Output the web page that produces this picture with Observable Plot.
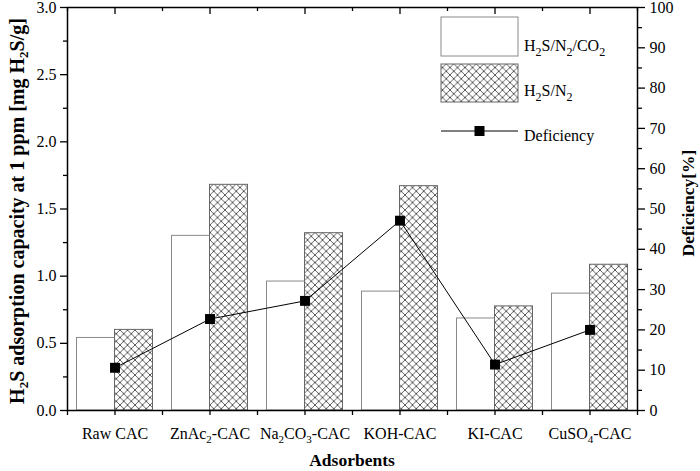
<!DOCTYPE html>
<html>
<head>
<meta charset="utf-8">
<script src="https://cdn.jsdelivr.net/npm/d3@7"></script>
<script src="https://cdn.jsdelivr.net/npm/@observablehq/plot@0.6"></script>
<style>
  html, body { margin: 0; padding: 0; background: white; }
  #chart svg { display: block; }
</style>
</head>
<body>
<div id="chart"></div>
<script>
// ---- data ----
const categories = ["Raw CAC", "ZnAc_2-CAC", "Na_2CO_3-CAC", "KOH-CAC", "KI-CAC", "CuSO_4-CAC"];
const mixedGas = [0.54, 1.30, 0.96, 0.885, 0.685, 0.87];   // H2S/N2/CO2
const nitrogenOnly = [0.60, 1.68, 1.32, 1.67, 0.775, 1.085]; // H2S/N2
const deficiency = [10.6, 22.7, 27.2, 47.1, 11.4, 20.0];     // %
const leftTicks = [0, 0.5, 1.0, 1.5, 2.0, 2.5, 3.0];
const leftMinorTicks = [0.25, 0.75, 1.25, 1.75, 2.25, 2.75];
const rightTicks = [0, 10, 20, 30, 40, 50, 60, 70, 80, 90, 100];
const rightMinorTicks = [5, 15, 25, 35, 45, 55, 65, 75, 85, 95];
const seriesNames = ["H_2S/N_2/CO_2", "H_2S/N_2", "Deficiency"];
const leftTitle = "H_2S adsorption capacity at 1 ppm [mg H_2S/g]";
const rightTitle = "Deficiency[%]";
const xTitle = "Adsorbents";

const k = 3 / 100; // deficiency (%) -> left-axis units
const rows = categories.map((c, i) => ({i, c, a: mixedGas[i], b: nitrogenOnly[i], d: deficiency[i]}));
const idx = categories.map((c, i) => i);
const bounds = d3.range(-0.5, categories.length, 1);
const halfW = 0.4;

const W = 700, H = 471, mL = 67, mR = 63, mT = 7, mB = 61;
const frameH = H - mT - mB;

const font = "'Liberation Serif', 'Times New Roman', serif";

const svg = Plot.plot({
  width: W,
  height: H,
  marginLeft: mL,
  marginRight: mR,
  marginTop: mT,
  marginBottom: mB,
  style: {fontFamily: font, fontSize: "16px", color: "black", background: "white"},
  x: {domain: [-0.5, categories.length - 0.5]},
  y: {domain: [0, 3]},
  marks: [
    Plot.rectY(rows, {x1: d => d.i - halfW, x2: "i", y: "a", fill: "white", stroke: "#8a8a8a", strokeWidth: 1}),
    Plot.rectY(rows, {x1: "i", x2: d => d.i + halfW, y: "b", fill: "url(#hatch)", stroke: "#666", strokeWidth: 1}),
    Plot.line(rows, {x: "i", y: d => d.d * k, stroke: "black", strokeWidth: 1}),
    Plot.dot(rows, {x: "i", y: d => d.d * k, symbol: "square", r: 5.6, fill: "black", stroke: "none"}),
    // left axis
    Plot.axisY(leftTicks, {anchor: "left", tickSize: 7, tickPadding: 4, tickFormat: d => d.toFixed(1), label: null, strokeWidth: 1.3}),
    Plot.axisY(leftMinorTicks, {anchor: "left", tickSize: 4, tickFormat: () => "", label: null, strokeWidth: 1.3}),
    // right axis (deficiency)
    Plot.axisY(rightTicks.map(t => t * k), {anchor: "right", tickSize: 7, tickPadding: 5, tickFormat: d => String(Math.round(d / k)), label: null, strokeWidth: 1.3}),
    Plot.axisY(rightMinorTicks.map(t => t * k), {anchor: "right", tickSize: 4, tickFormat: () => "", label: null, strokeWidth: 1.3}),
    // bottom axis
    Plot.axisX(idx, {anchor: "bottom", tickSize: 5, tickPadding: 12, tickFormat: i => categories[i], label: null, strokeWidth: 1.3}),
    Plot.axisX(bounds, {anchor: "bottom", tickSize: 5, tickFormat: () => "", label: null, strokeWidth: 1.3}),
    // top edge ticks pointing inward (7px major, 4px minor)
    Plot.tickX(idx, {x: d => d, insetBottom: frameH - 7, stroke: "black", strokeWidth: 1.3}),
    Plot.tickX(bounds, {x: d => d, insetBottom: frameH - 4, stroke: "black", strokeWidth: 1.3}),
    Plot.frame({stroke: "black", strokeWidth: 1.5})
  ]
});

const root = d3.select(svg);

// remove empty tick-label texts (minor ticks carry no label)
root.selectAll("text").filter(function() { return d3.select(this).text().trim() === ""; }).remove();

// hatch pattern
const P = 7.5;
const defs = root.insert("defs", ":first-child");
const pat = defs.append("pattern").attr("id", "hatch").attr("patternUnits", "userSpaceOnUse")
  .attr("width", P).attr("height", P);
pat.append("rect").attr("width", P).attr("height", P).attr("fill", "white");
pat.append("path").attr("d", `M0,0L${P},${P}M${P},0L0,${P}`).attr("stroke", "#333").attr("stroke-width", 0.8).attr("fill", "none");

// write text with "_x" subscripts as tspans
function writeSub(textSel, str, subSize, drop) {
  textSel.text(null);
  const parts = str.split(/(_\d)/).filter(p => p);
  let pending = 0;
  parts.forEach(p => {
    let ts;
    if (p.startsWith("_")) {
      ts = textSel.append("tspan").attr("dy", pending + drop).attr("font-size", subSize).text(p.slice(1));
      pending = -drop;
    } else {
      ts = textSel.append("tspan").text(p);
      if (pending) ts.attr("dy", pending);
      pending = 0;
    }
  });
}

root.selectAll("text").each(function() {
  const t = d3.select(this);
  const s = t.text();
  if (s.includes("_")) writeSub(t, s, "11px", 4);
});

// legend
const lg = root.append("g").attr("font-family", font).attr("font-size", "16px")
  .attr("fill", "black").attr("text-anchor", "start");
lg.append("rect").attr("x", 441).attr("y", 17).attr("width", 77).attr("height", 39)
  .attr("fill", "white").attr("stroke", "#8a8a8a");
lg.append("rect").attr("x", 441).attr("y", 64).attr("width", 77).attr("height", 38)
  .attr("fill", "url(#hatch)").attr("stroke", "#666");
lg.append("line").attr("x1", 441).attr("x2", 518).attr("y1", 131).attr("y2", 131)
  .attr("stroke", "black").attr("stroke-width", 1);
lg.append("rect").attr("x", 474.5).attr("y", 126).attr("width", 10).attr("height", 10).attr("fill", "black");
writeSub(lg.append("text").attr("x", 524).attr("y", 51), seriesNames[0], "12px", 5);
writeSub(lg.append("text").attr("x", 524).attr("y", 96), seriesNames[1], "12px", 5);
writeSub(lg.append("text").attr("x", 524).attr("y", 141), seriesNames[2], "12px", 5);

// axis titles
writeSub(root.append("text").attr("transform", "translate(24,211) rotate(-90)")
  .attr("text-anchor", "middle").attr("font-family", font).attr("font-weight", "bold")
  .attr("font-size", "20px"), leftTitle, "13px", 4);
root.append("text").attr("transform", "translate(694,203) rotate(-90)")
  .attr("text-anchor", "middle").attr("font-family", font).attr("font-weight", "bold")
  .attr("font-size", "17.5px").text(rightTitle);
root.append("text").attr("x", 352).attr("y", 466)
  .attr("text-anchor", "middle").attr("font-family", font).attr("font-weight", "bold")
  .attr("font-size", "17.5px").text(xTitle);

document.getElementById("chart").appendChild(svg);
</script>
</body>
</html>
